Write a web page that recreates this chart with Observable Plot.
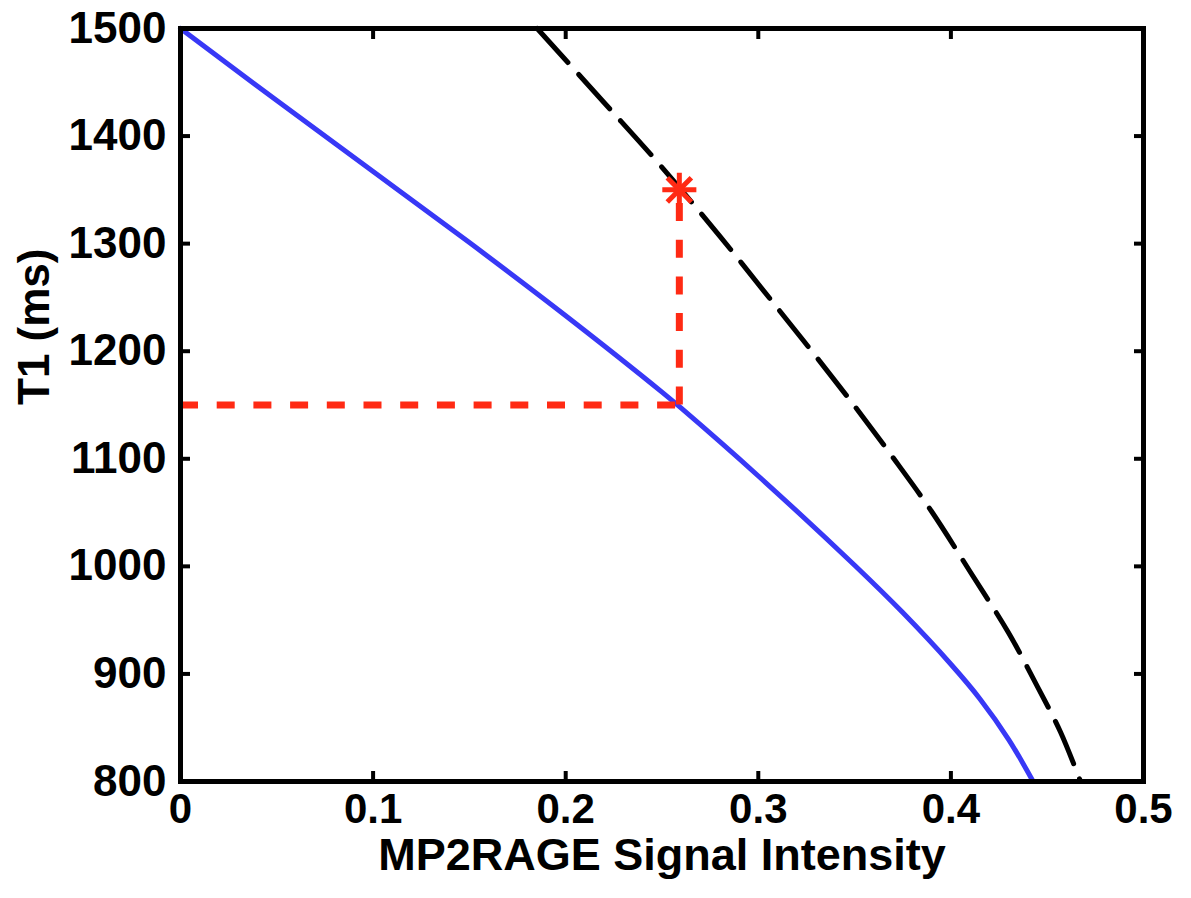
<!DOCTYPE html>
<html>
<head>
<meta charset="utf-8">
<script src="https://cdn.jsdelivr.net/npm/d3@7"></script>
<script src="https://cdn.jsdelivr.net/npm/@observablehq/plot@0.6"></script>
<style>
  html, body { margin: 0; padding: 0; background: #fff; }
  #chart svg { font-family: "Liberation Sans", Arial, Helvetica, sans-serif; font-weight: bold; }
</style>
</head>
<body>
<div id="chart"></div>
<script>
// ---- data ----
const xTicks = [0, 0.1, 0.2, 0.3, 0.4, 0.5];
const yTicks = [800, 900, 1000, 1100, 1200, 1300, 1400, 1500];

// blue solid curve
const blueSignal = [0, 0.05, 0.10, 0.15, 0.20, 0.25, 0.26, 0.30, 0.35, 0.375, 0.40, 0.415, 0.43, 0.4427];
const blueT1     = [1500, 1433, 1367, 1301, 1233, 1162, 1147, 1084, 1001, 957, 909, 877, 839, 800];

// black dashed curve
const blackSignal = [0.1852, 0.22, 0.25, 0.28, 0.31, 0.33, 0.35, 0.37, 0.39, 0.41, 0.43, 0.445, 0.4569, 0.4673];
const blackT1     = [1500, 1431, 1371, 1307, 1240, 1195, 1149, 1101, 1051, 995, 938, 888, 846, 800];

// measured point and read-out
const markerSignal = [0.259];
const markerT1 = [1350];
const readT1 = [1150];

const xLabel = "MP2RAGE Signal Intensity";
const yLabel = "T1 (ms)";

// ---- build tables ----
const blue = blueSignal.map((x, i) => ({x, y: blueT1[i]}));
const black = blackSignal.map((x, i) => ({x, y: blackT1[i]}));
const marker = markerSignal.map((x, i) => ({x, y: markerT1[i], r: readT1[i]}));

const noText = () => "";
const red = "#ff2a14";

const chart = Plot.plot({
  width: 1191,
  height: 898,
  marginLeft: 180,
  marginRight: 48,
  marginTop: 28,
  marginBottom: 117,
  x: {domain: [0, 0.5]},
  y: {domain: [800, 1500]},
  marks: [
    // tick labels
    Plot.axisX({anchor: "bottom", ticks: xTicks, tickSize: 0, tickPadding: 12, fontSize: 42, label: null, tickFormat: d => String(d)}),
    Plot.axisY({anchor: "left", ticks: yTicks, tickSize: 0, tickPadding: 14, fontSize: 44, label: null, tickFormat: d => String(d)}),
    // inward ticks on all four sides
    Plot.axisX({anchor: "bottom", ticks: xTicks, tickSize: -10, strokeWidth: 4, label: null, tickFormat: noText}),
    Plot.axisX({anchor: "top", ticks: xTicks, tickSize: -10, strokeWidth: 4, label: null, tickFormat: noText}),
    Plot.axisY({anchor: "left", ticks: yTicks, tickSize: -10, strokeWidth: 4, label: null, tickFormat: noText}),
    Plot.axisY({anchor: "right", ticks: yTicks, tickSize: -10, strokeWidth: 4, label: null, tickFormat: noText}),
    // curves
    Plot.line(blue, {x: "x", y: "y", stroke: "#3838f6", strokeWidth: 5, curve: "catmull-rom"}),
    Plot.line(black, {x: "x", y: "y", stroke: "#000", strokeWidth: 5, strokeDasharray: "46,16", curve: "catmull-rom"}),
    // red read-out lines
    Plot.ruleY(marker, {y: "r", x1: 0, x2: "x", stroke: red, strokeWidth: 7, strokeDasharray: "18,18.7"}),
    Plot.ruleX(marker, {x: "x", y1: "r", y2: "y", stroke: red, strokeWidth: 7, strokeDasharray: "18,18.7"}),
    // star marker (plus + times)
    Plot.dot(marker, {x: "x", y: "y", symbol: "plus", r: 11, stroke: red, strokeWidth: 5}),
    Plot.dot(marker, {x: "x", y: "y", symbol: "times", r: 11, stroke: red, strokeWidth: 5}),
    // frame
    Plot.frame({stroke: "#000", strokeWidth: 5}),
    // axis titles
    Plot.text([xLabel], {frameAnchor: "bottom", dy: 88, fontSize: 45, fontWeight: "bold", fill: "#000"}),
    Plot.text([yLabel], {frameAnchor: "left", dx: -146, rotate: -90, fontSize: 44, fontWeight: "bold", fill: "#000"})
  ]
});
document.getElementById("chart").appendChild(chart);
</script>
</body>
</html>
